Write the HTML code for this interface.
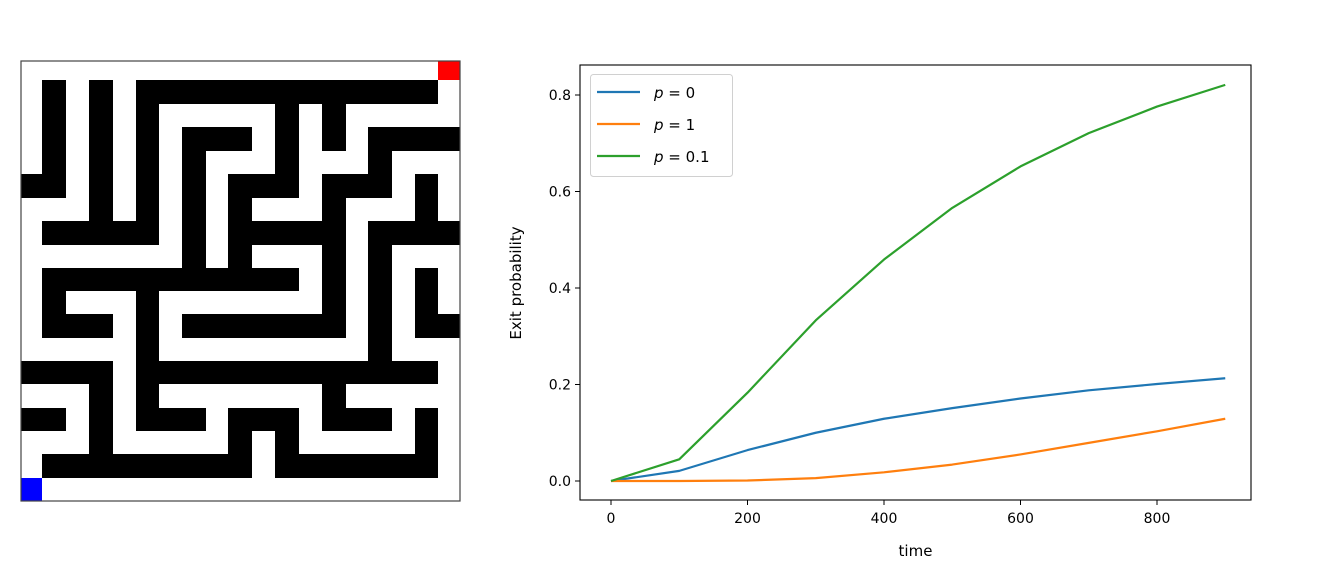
<!DOCTYPE html>
<html><head><meta charset="utf-8"><style>
html,body{margin:0;padding:0;background:#fff;}
svg{display:block;font-family:"DejaVu Sans","Liberation Sans",sans-serif;}
</style></head><body>
<svg id="fig" width="1331" height="571" viewBox="0 0 1331 571">
<g id="maze"></g>
<rect x="21" y="61" width="439" height="440" fill="none" stroke="#444" stroke-width="1.2"/>
<g id="chart"></g>
</svg>
<script>
const NS="http://www.w3.org/2000/svg";
// Maze data: rows of black cell column indices
const mazeRows=[
[],
[1,3,5,6,7,8,9,10,11,12,13,14,15,16,17],
[1,3,5,11,13],
[1,3,5,7,8,9,11,13,15,16,17,18],
[1,3,5,7,11,15],
[0,1,3,5,7,9,10,11,13,14,15,17],
[3,5,7,9,13,17],
[1,2,3,4,5,7,9,10,11,12,13,15,16,17,18],
[7,9,13,15],
[1,2,3,4,5,6,7,8,9,10,11,13,15,17],
[1,5,13,15,17],
[1,2,3,5,7,8,9,10,11,12,13,15,17,18],
[5,15],
[0,1,2,3,5,6,7,8,9,10,11,12,13,14,15,16,17],
[3,5,13],
[0,1,3,5,6,7,9,10,11,13,14,15,17],
[3,9,11,17],
[1,2,3,4,5,6,7,8,9,11,12,13,14,15,16,17],
[]
];
const xb=[21,42,66,89,113,136,159,182,206,228,252,275,299,322,346,368,392,415,438,460];
const yb=[61,80,104,127,151,174,198,221,245,268,291,314,338,361,384,408,431,454,478,501];
const mz=document.getElementById('maze');
function cell(c,r,fill,name){
  const e=document.createElementNS(NS,'rect');
  e.setAttribute('x',xb[c]);e.setAttribute('y',yb[r]);
  e.setAttribute('width',xb[c+1]-xb[c]);e.setAttribute('height',yb[r+1]-yb[r]);
  e.setAttribute('fill',fill);
  
  
  mz.appendChild(e);
}
mazeRows.forEach((row,r)=>row.forEach(c=>cell(c,r,'#000','maze-wall')));
cell(18,0,'#ff0000','maze-exit');
cell(0,18,'#0000ff','maze-start');

// Chart data
const times=[0,100,200,300,400,500,600,700,800,900];
const seriesP0=[0,0.021,0.064,0.100,0.129,0.151,0.171,0.188,0.201,0.213];
const seriesP1=[0,0,0.001,0.006,0.018,0.034,0.055,0.079,0.103,0.129];
const seriesP01=[0,0.045,0.183,0.333,0.459,0.566,0.652,0.721,0.776,0.821];
const xTicks=[0,200,400,600,800];
const yTicks=[0.0,0.2,0.4,0.6,0.8];
const yTickLabels=['0.0','0.2','0.4','0.6','0.8'];

const ax={l:580,t:65,r:1251,b:500};
const sx=v=>611+v*(1157-611)/800;
const sy=v=>481-v*(481-95)/0.8;
const ch=document.getElementById('chart');
function mk(tag,attrs,parent){const e=document.createElementNS(NS,tag);for(const k in attrs)e.setAttribute(k,attrs[k]);(parent||ch).appendChild(e);return e;}

xTicks.forEach(t=>{
  const tk=mk('line',{x1:sx(t),x2:sx(t),y1:ax.b,y2:ax.b+5,stroke:'#000','stroke-width':1});
  
  
  const tx=mk('text',{x:sx(t),y:ax.b+23,'text-anchor':'middle','font-size':14});
  tx.textContent=t;
  
  
});
yTicks.forEach((t,i)=>{
  const tk=mk('line',{x1:ax.l-5,x2:ax.l,y1:sy(t),y2:sy(t),stroke:'#000','stroke-width':1});
  
  
  const tx=mk('text',{x:ax.l-9,y:sy(t)+5,'text-anchor':'end','font-size':14});
  tx.textContent=yTickLabels[i];
  
  
});
const series=[[seriesP0,'#1f77b4','line-p0'],[seriesP1,'#ff7f0e','line-p1'],[seriesP01,'#2ca02c','line-p01']];
series.forEach(([d,c,n])=>{
  const p=mk('polyline',{points:times.map((t,i)=>sx(t)+','+sy(d[i])).join(' '),fill:'none',stroke:c,'stroke-width':2.2,'stroke-linejoin':'round'});
  
  
});
const frame=mk('rect',{x:ax.l,y:ax.t,width:ax.r-ax.l,height:ax.b-ax.t,fill:'none',stroke:'#000','stroke-width':1.1});


const xl=mk('text',{x:(ax.l+ax.r)/2,y:556,'text-anchor':'middle','font-size':15});
xl.textContent='time';


const yl=mk('text',{x:0,y:0,'text-anchor':'middle','font-size':15,transform:'translate(521,283) rotate(-90)'});
yl.textContent='Exit probability';



// legend
const lg=mk('g',{});


mk('rect',{x:590.5,y:74.5,width:142,height:102,rx:3,fill:'#fff',stroke:'#d0d0d0','stroke-width':1},lg);
const labels=[['0','#1f77b4'],['1','#ff7f0e'],['0.1','#2ca02c']];
labels.forEach(([v,c],i)=>{
  const y=92+i*32;
  const l=mk('line',{x1:597,x2:640,y1:y,y2:y,stroke:c,'stroke-width':2.2},lg);
  
  
  const t=mk('text',{x:654,y:y+6,'font-size':15},lg);
  t.innerHTML='<tspan font-style="italic">p</tspan> = '+v;
  
  
});
</script>
</body></html>
